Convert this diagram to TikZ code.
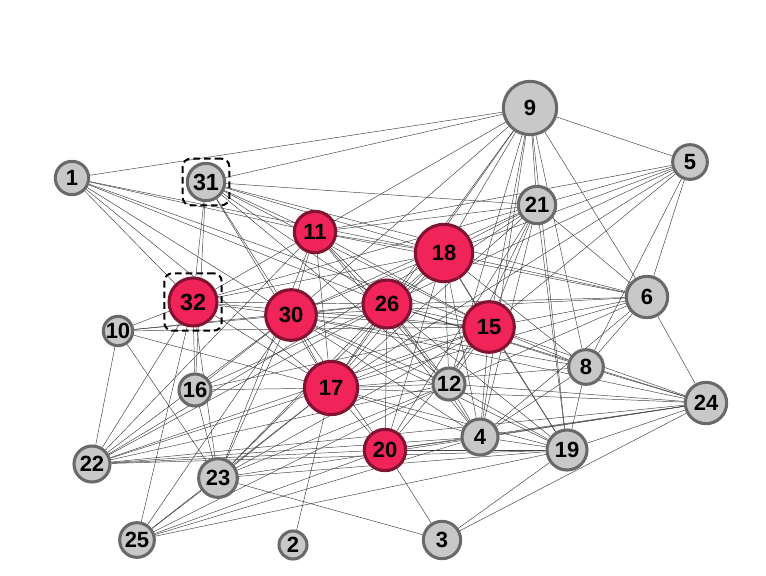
\documentclass[tikz,border=0pt]{standalone}
\usepackage{fontspec}
\setmainfont{Liberation Sans}
\usepackage{xcolor}
\usepackage{tikz}
\usetikzlibrary{backgrounds}
\definecolor{hotred}{RGB}{240, 36, 88}
\definecolor{darkred}{RGB}{130, 18, 50}
\definecolor{lightgrey}{RGB}{200, 200, 200}
\definecolor{darkgrey}{RGB}{105, 105, 105}
\tikzset{
    greynode/.style = {circle, draw=darkgrey, fill=lightgrey, line width=2.3pt, inner sep=0pt, font=\bfseries\fontsize{16.5}{16.5}\selectfont, minimum size=#1},
    rednode/.style = {circle, draw=darkred, fill=hotred, line width=2.3pt, inner sep=0pt, font=\bfseries\fontsize{16.5}{16.5}\selectfont, minimum size=#1},
    selbox/.style = {rectangle, draw=black, dashed, dash pattern=on 5pt off 3pt, line width=1.5pt, rounded corners=6pt, inner sep=0pt, minimum size=#1},
    link/.style = {draw=black!75, line width=0.35pt}
}

\begin{document}
\begin{tikzpicture}[x=0.75pt, y=-0.75pt]
\useasboundingbox (0,0) rectangle (766,575);
% Nodes
\node (n9) [greynode=40pt] at (530,108) {9};
\node (n5) [greynode=26pt] at (690,162) {5};
\node (n1) [greynode=25pt] at (72,178) {1};
\node (n31) [greynode=28pt, font=\bfseries\fontsize{17.5}{17.5}\selectfont] at (206,182) {31};
\node (n21) [greynode=28pt] at (537,205) {21};
\node (n11) [rednode=31pt] at (315,232) {11};
\node (n18) [rednode=43pt] at (444,253) {18};
\node (n6) [greynode=31pt] at (647,297) {6};
\node (n32) [rednode=36pt, font=\bfseries\fontsize{17.5}{17.5}\selectfont] at (193,302) {32};
\node (n30) [rednode=38pt] at (291,315) {30};
\node (n26) [rednode=36pt] at (387,304) {26};
\node (n15) [rednode=38pt] at (489,327) {15};
\node (n10) [greynode=22pt] at (118,331) {10};
\node (n8) [greynode=26pt] at (586,367) {8};
\node (n16) [greynode=24pt] at (195,390) {16};
\node (n17) [rednode=40pt] at (331,388) {17};
\node (n12) [greynode=24pt] at (449,384) {12};
\node (n24) [greynode=31pt] at (706,403) {24};
\node (n4) [greynode=27pt] at (480,437) {4};
\node (n19) [greynode=30pt] at (567,450) {19};
\node (n20) [rednode=31pt] at (385,450) {20};
\node (n22) [greynode=27pt] at (92,464) {22};
\node (n23) [greynode=29pt] at (218,478) {23};
\node (n25) [greynode=26pt] at (137,540) {25};
\node (n2) [greynode=21pt] at (293,545) {2};
\node (n3) [greynode=28pt] at (442,540) {3};

% Selection boxes
\node (s31) [selbox=35pt] at (n31) {};
\node (s32) [selbox=43pt] at (n32) {};

% Links
\begin{scope}[on background layer]
\draw [link] (n9) edge (n1) edge (n31) edge (n11) edge (n5) edge (n21) edge (n18) edge (n26) edge (n15) edge (n6) edge (n8) edge (n4) edge (n19) edge (n17) edge (n30) edge (n12);
\draw [link] (n5) edge (n21) edge (n18) edge (n26) edge (n15) edge (n6) edge (n8) edge (n11) edge (n17);
\draw [link] (n1) edge (n11) edge (n18) edge (n26) edge (n15) edge (n17) edge (n32) edge (n30);
\draw [link] (n31) edge (n21) edge (n11) edge (n18) edge (n26) edge (n30) edge (n17) edge (n32) edge (n16) edge (n15) edge (n6) edge (n12);
\draw [link] (n21) edge (n18) edge (n11) edge (n6) edge (n19) edge (n4) edge (n15) edge (n12) edge (n17) edge (n20) edge (n30) edge (n32) edge (n26);
\draw [link] (n6) edge (n18) edge (n15) edge (n26) edge (n30) edge (n24) edge (n8) edge (n17) edge (n12) edge (n4) edge (n11);
\draw [link] (n24) edge (n8) edge (n15) edge (n19) edge (n17) edge (n12) edge (n4) edge (n20) edge (n3) edge (n23) edge (n30) edge (n22) edge (n26);
\draw [link] (n8) edge (n19) edge (n18) edge (n15) edge (n26) edge (n30) edge (n4) edge (n17);
\draw [link] (n19) edge (n4) edge (n20) edge (n3) edge (n15) edge (n18) edge (n12) edge (n17) edge (n30) edge (n25) edge (n22) edge (n23) edge (n26);
\draw [link] (n3) edge (n20) edge (n23);
\draw [link] (n2) edge (n17);
\draw [link] (n25) edge (n23) edge (n30) edge (n17) edge (n32) edge (n4) edge (n20) edge (n12);
\draw [link] (n22) edge (n32) edge (n10) edge (n30) edge (n17) edge (n26) edge (n15) edge (n18) edge (n20) edge (n4) edge (n12) edge (n11);
\draw [link] (n23) edge (n10) edge (n16) edge (n17) edge (n26) edge (n15) edge (n18) edge (n32) edge (n12) edge (n11) edge (n30);
\draw [link] (n10) edge (n32) edge (n30) edge (n26) edge (n15) edge (n17);
\draw [link] (n16) edge (n32) edge (n17) edge (n26) edge (n15) edge (n30);
\draw [link] (n32) edge (n30) edge (n11) edge (n18) edge (n26) edge (n15) edge (n17);
\draw [link] (n30) edge (n11) edge (n18) edge (n26) edge (n15) edge (n17) edge (n20) edge (n4) edge (n12);
\draw [link] (n11) edge (n18) edge (n26) edge (n15) edge (n17) edge (n12) edge (n4);
\draw [link] (n18) edge (n26) edge (n15) edge (n17) edge (n12) edge (n4) edge (n20);
\draw [link] (n26) edge (n15) edge (n17) edge (n20) edge (n12) edge (n4);
\draw [link] (n15) edge (n17) edge (n12) edge (n4) edge (n20);
\draw [link] (n17) edge (n20) edge (n12) edge (n4);
\draw [link] (n20) edge (n4);
\draw [link] (n12) edge (n4);
\end{scope}

\end{tikzpicture}
\end{document}
